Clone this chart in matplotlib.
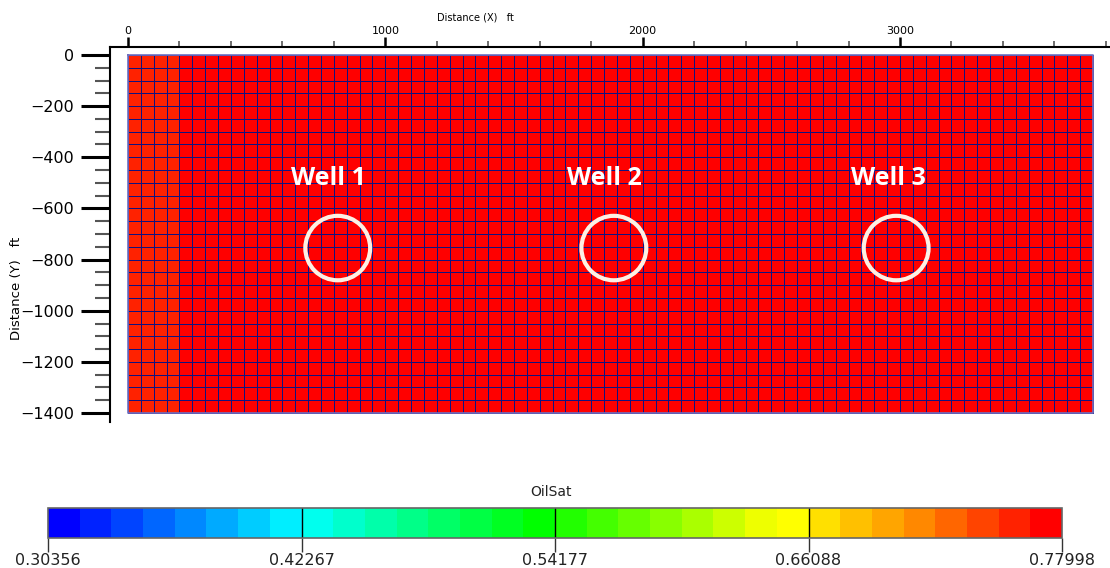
import numpy as np
import matplotlib
matplotlib.use("Agg")
import matplotlib.pyplot as plt
from matplotlib.colors import ListedColormap, BoundaryNorm
from matplotlib.patches import Ellipse
from matplotlib.ticker import MultipleLocator, FixedLocator

# ---- data ----
n_cols = 75            # 50 ft cells in X
n_rows = 28            # 50 ft cells in Y
cell_size = 50.0
# oil saturation per column (uniform down each column)
col_oilsat = [0.758, 0.758, 0.758, 0.758] + [0.7799] * 71
cbar_ticks = [0.30356, 0.42267, 0.54177, 0.66088, 0.77998]
well_names = ["Well 1", "Well 2", "Well 3"]
well_x = [815, 1888, 2985]
well_y = [-755, -755, -755]
label_x = [780, 1850, 2955]
label_y = [-485, -485, -485]

# ---- colormap (32 discrete levels) ----
cmap_hex = ["#0000FF", "#0022FF", "#0044FF", "#0066FF", "#0088FF", "#00AAFF", "#00CCFF", "#00EEFF",
            "#00FFEE", "#00FFCC", "#00FFAA", "#00FF88", "#00FF66", "#00FF44", "#00FF22", "#00FF00",
            "#22FF00", "#44FF00", "#66FF00", "#88FF00", "#AAFF00", "#CCFF00", "#EEFF00", "#FFFF00",
            "#FFE000", "#FFC000", "#FFA500", "#FF8800", "#FF6600", "#FF4400", "#FF2200", "#FF0000"]
cmap = ListedColormap(cmap_hex)
bounds = np.linspace(cbar_ticks[0], cbar_ticks[-1], len(cmap_hex) + 1)
norm = BoundaryNorm(bounds, cmap.N)

fig = plt.figure(figsize=(11.10, 5.68), dpi=100)
W, H = 1110, 568

ax = fig.add_axes([110 / W, 1 - 422 / H, 1000 / W, (422 - 47) / H])
xe = np.arange(n_cols + 1) * cell_size
ye = -np.arange(n_rows + 1) * cell_size
Z = np.tile(np.array(col_oilsat), (n_rows, 1))
ax.pcolormesh(xe, ye, Z, cmap=cmap, norm=norm, edgecolors="#12127f", linewidth=0.7)
ax.plot([0, n_cols * cell_size, n_cols * cell_size, 0, 0],
        [0, 0, -n_rows * cell_size, -n_rows * cell_size, 0], color="#7070c0", lw=1.2)

ax.set_xlim(-70, 3816)
ax.set_ylim(-1435, 31)

for s in ["right", "bottom"]:
    ax.spines[s].set_visible(False)
for s in ["left", "top"]:
    ax.spines[s].set_linewidth(1.5)

ax.xaxis.tick_top()
ax.xaxis.set_label_position("top")
ax.xaxis.set_major_locator(FixedLocator([0, 1000, 2000, 3000]))
ax.xaxis.set_minor_locator(MultipleLocator(200))
ax.yaxis.set_major_locator(MultipleLocator(200))
ax.yaxis.set_minor_locator(MultipleLocator(50))
ax.tick_params(axis="x", which="major", length=7, width=1.8, labelsize=8, pad=1)
ax.tick_params(axis="x", which="minor", length=4, width=1.2, color="#555555")
ax.tick_params(axis="y", which="major", length=21, width=2.2, labelsize=11.5, pad=5)
ax.tick_params(axis="y", which="minor", length=11, width=1.5, color="#555555")
ax.set_yticklabels([("\u2212" + str(int(-v)) if v < 0 else str(int(v))) for v in ax.get_yticks()])

fig.text(475 / W, 1 - 18 / H, "Distance (X)   ft", ha="center", va="center", fontsize=7)
fig.text(17 / W, 1 - 288 / H, "Distance (Y)   ft", ha="center", va="center", fontsize=9.5,
         rotation=90)

for name, wx, wy, lx, ly in zip(well_names, well_x, well_y, label_x, label_y):
    ax.add_patch(Ellipse((wx, wy), 252, 252, fill=False, edgecolor="#fdf0e4", lw=3.0, zorder=5))
    ax.text(lx, ly, name, color="white", fontsize=18, fontweight="bold", family="Open Sans",
            ha="center", va="center", zorder=6)

# ---- colorbar ----
cax = fig.add_axes([48 / W, 1 - 538 / H, (1062 - 48) / W, 30 / H])
sm = matplotlib.cm.ScalarMappable(norm=norm, cmap=cmap)
cb = fig.colorbar(sm, cax=cax, orientation="horizontal", ticks=cbar_ticks, drawedges=False)
cb.ax.set_xticklabels(["%.5f" % t for t in cbar_ticks])
cb.outline.set_edgecolor("#666666")
cb.outline.set_linewidth(1.2)
cax.tick_params(axis="x", length=10, width=1, labelsize=11.5, pad=1, color="#333333",
                labelcolor="#222222")
cax.minorticks_off()
for t in cbar_ticks[1:-1]:
    cax.axvline(t, color="black", lw=1)
fig.text(551 / W, 1 - 492 / H, "OilSat", ha="center", va="center", fontsize=10, color="#222222")

fig.savefig("out.png", dpi=100)
